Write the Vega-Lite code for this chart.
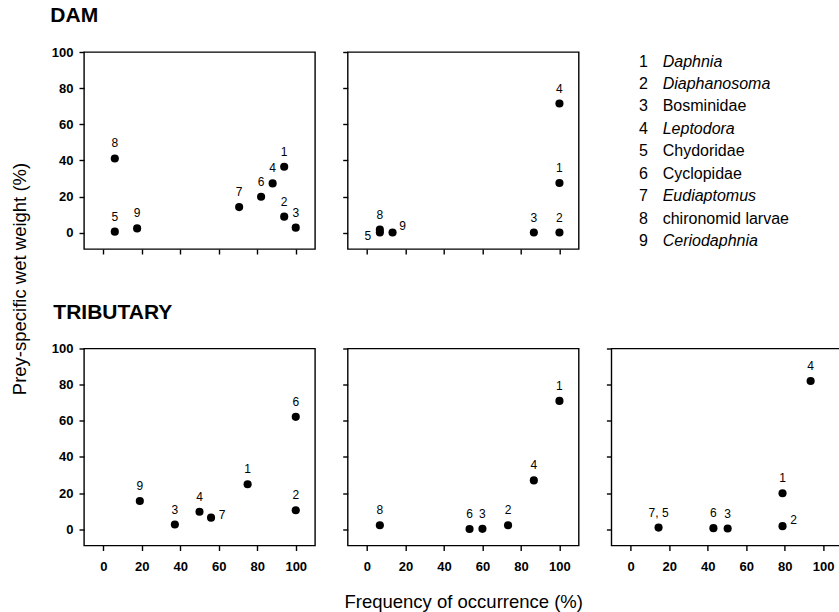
{
  "$schema": "https://vega.github.io/schema/vega-lite/v6.json",
  "padding": {"left": 11, "top": 4, "right": 0, "bottom": 0},
  "config": {
    "font": "Liberation Sans",
    "view": {"stroke": "#000", "strokeWidth": 1.4},
    "axis": {"grid": false, "domain": false, "tickColor": "#000", "tickSize": 5, "tickWidth": 1.4, "labelFontSize": 13, "labelFontWeight": "bold", "labelColor": "#000", "labelFlush": false, "titleColor": "#000"},
    "axisX": {"labelPadding": 10},
    "axisY": {"labelPadding": 6},
    "text": {"color": "#000"},
    "title": {"color": "#000"}
  },
  "datasets": {
    "prey": [
      {"site": "DAM", "fish": "perch", "label": "1", "freq": 94, "weight": 36.5},
      {"site": "DAM", "fish": "perch", "label": "2", "freq": 94, "weight": 8.9},
      {"site": "DAM", "fish": "perch", "label": "3", "freq": 100, "weight": 2.8},
      {"site": "DAM", "fish": "perch", "label": "4", "freq": 88, "weight": 27.3},
      {"site": "DAM", "fish": "perch", "label": "5", "freq": 6, "weight": 0.6},
      {"site": "DAM", "fish": "perch", "label": "6", "freq": 82, "weight": 19.9},
      {"site": "DAM", "fish": "perch", "label": "7", "freq": 70.6, "weight": 14.2},
      {"site": "DAM", "fish": "perch", "label": "8", "freq": 6, "weight": 41.1},
      {"site": "DAM", "fish": "perch", "label": "9", "freq": 17.6, "weight": 2.4},
      {"site": "DAM", "fish": "roach", "label": "1", "freq": 100, "weight": 27.5},
      {"site": "DAM", "fish": "roach", "label": "2", "freq": 100, "weight": 0.1},
      {"site": "DAM", "fish": "roach", "label": "3", "freq": 86.7, "weight": 0.1},
      {"site": "DAM", "fish": "roach", "label": "4", "freq": 100, "weight": 71.5},
      {"site": "DAM", "fish": "roach", "label": "5", "freq": 6.7, "weight": 0.1},
      {"site": "DAM", "fish": "roach", "label": "8", "freq": 6.7, "weight": 1.7},
      {"site": "DAM", "fish": "roach", "label": "9", "freq": 13.3, "weight": 0.1},
      {"site": "TRIBUTARY", "fish": "perch", "label": "9", "freq": 19, "weight": 15.6},
      {"site": "TRIBUTARY", "fish": "perch", "label": "3", "freq": 37.2, "weight": 2.6},
      {"site": "TRIBUTARY", "fish": "perch", "label": "4", "freq": 50, "weight": 9.7},
      {"site": "TRIBUTARY", "fish": "perch", "label": "7", "freq": 56, "weight": 6.4},
      {"site": "TRIBUTARY", "fish": "perch", "label": "1", "freq": 75, "weight": 24.9},
      {"site": "TRIBUTARY", "fish": "perch", "label": "6", "freq": 100, "weight": 62.2},
      {"site": "TRIBUTARY", "fish": "perch", "label": "2", "freq": 100, "weight": 10.5},
      {"site": "TRIBUTARY", "fish": "roach", "label": "8", "freq": 6.7, "weight": 2.2},
      {"site": "TRIBUTARY", "fish": "roach", "label": "6", "freq": 53.3, "weight": 0.1},
      {"site": "TRIBUTARY", "fish": "roach", "label": "3", "freq": 60, "weight": 0.2},
      {"site": "TRIBUTARY", "fish": "roach", "label": "2", "freq": 73.3, "weight": 2.2},
      {"site": "TRIBUTARY", "fish": "roach", "label": "4", "freq": 86.7, "weight": 27},
      {"site": "TRIBUTARY", "fish": "roach", "label": "1", "freq": 100, "weight": 71},
      {"site": "TRIBUTARY", "fish": "bream", "label": "7, 5", "freq": 14.5, "weight": 0.9},
      {"site": "TRIBUTARY", "fish": "bream", "label": "6", "freq": 43, "weight": 0.6},
      {"site": "TRIBUTARY", "fish": "bream", "label": "3", "freq": 50.4, "weight": 0.4},
      {"site": "TRIBUTARY", "fish": "bream", "label": "1", "freq": 78.9, "weight": 19.9},
      {"site": "TRIBUTARY", "fish": "bream", "label": "2", "freq": 78.9, "weight": 1.7},
      {"site": "TRIBUTARY", "fish": "bream", "label": "4", "freq": 93.5, "weight": 82}
    ],
    "taxa": [
      {"num": "1", "name": "Daphnia", "rank": "genus"},
      {"num": "2", "name": "Diaphanosoma", "rank": "genus"},
      {"num": "3", "name": "Bosminidae", "rank": "family"},
      {"num": "4", "name": "Leptodora", "rank": "genus"},
      {"num": "5", "name": "Chydoridae", "rank": "family"},
      {"num": "6", "name": "Cyclopidae", "rank": "family"},
      {"num": "7", "name": "Eudiaptomus", "rank": "genus"},
      {"num": "8", "name": "chironomid larvae", "rank": "other"},
      {"num": "9", "name": "Ceriodaphnia", "rank": "genus"}
    ]
  },
  "title": {"text": "Prey-specific wet weight (%)", "orient": "left", "anchor": "middle", "fontSize": 18.5, "fontWeight": "normal", "baseline": "alphabetic", "offset": 5, "dx": 29},
  "columns": 3,
  "spacing": {"row": 99.5, "column": 32.7},
  "bounds": "flush",
  "concat": [
    {
      "width": 231, "height": 197,
      "title": {"text": "DAM", "anchor": "start", "frame": "bounds", "fontSize": 21, "fontWeight": "bold", "baseline": "alphabetic", "offset": 3, "dx": -1},
      "data": {"name": "prey"},
      "transform": [{"filter": "datum.site == 'DAM' && datum.fish == 'perch'"}],
      "encoding": {
        "x": {"field": "freq", "type": "quantitative", "scale": {"domain": [-10, 110], "nice": false, "zero": false}, "axis": {"values": [0, 20, 40, 60, 80, 100], "labels": false, "title": null}},
        "y": {"field": "weight", "type": "quantitative", "scale": {"domain": [-9, 100], "nice": false, "zero": false}, "axis": {"values": [0, 20, 40, 60, 80, 100], "title": null}}
      },
      "layer": [
        {"mark": {"type": "circle", "size": 66, "color": "#000", "opacity": 1}},
        {"mark": {"type": "text", "dy": -15, "baseline": "middle", "fontSize": 12}, "encoding": {"text": {"field": "label"}}},
        {"data": {"values": [{"t": "perch (n = 20)"}]}, "mark": {"type": "text", "align": "left", "baseline": "top", "fontSize": 16}, "encoding": {"x": {"datum": -6.7}, "y": {"datum": 94.5}, "text": {"field": "t"}}}
      ]
    },
    {
      "width": 231, "height": 197,
      "data": {"name": "prey"},
      "transform": [{"filter": "datum.site == 'DAM' && datum.fish == 'roach'"}],
      "encoding": {
        "x": {"field": "freq", "type": "quantitative", "scale": {"domain": [-10, 110], "nice": false, "zero": false}, "axis": {"values": [0, 20, 40, 60, 80, 100], "labels": false, "title": null}},
        "y": {"field": "weight", "type": "quantitative", "scale": {"domain": [-9, 100], "nice": false, "zero": false}, "axis": {"values": [0, 20, 40, 60, 80, 100], "labels": false, "title": null}}
      },
      "layer": [
        {"mark": {"type": "circle", "size": 66, "color": "#000", "opacity": 1}},
        {"transform": [{"filter": "datum.label != '5' && datum.label != '9'"}], "mark": {"type": "text", "dy": -15, "baseline": "middle", "fontSize": 12}, "encoding": {"text": {"field": "label"}}},
        {"transform": [{"filter": "datum.label == '9'"}], "mark": {"type": "text", "dx": 10, "dy": -7, "baseline": "middle", "fontSize": 12}, "encoding": {"text": {"field": "label"}}},
        {"transform": [{"filter": "datum.label == '5'"}], "mark": {"type": "text", "dx": -12, "dy": 3, "baseline": "middle", "fontSize": 12}, "encoding": {"text": {"field": "label"}}},
        {"data": {"values": [{"t": "roach (n = 15)"}]}, "mark": {"type": "text", "align": "left", "baseline": "top", "fontSize": 16}, "encoding": {"x": {"datum": -6.5}, "y": {"datum": 94.5}, "text": {"field": "t"}}}
      ]
    },
    {
      "width": 231, "height": 197,
      "view": {"stroke": null},
      "data": {"name": "taxa"},
      "encoding": {
        "y": {"field": "num", "type": "ordinal", "scale": {"type": "point", "range": [9.5, 189.3], "padding": 0}, "axis": null}
      },
      "layer": [
        {"mark": {"type": "text", "align": "left", "baseline": "middle", "fontSize": 16}, "encoding": {"x": {"datum": 27.6, "scale": {"domain": [0, 231], "nice": false, "zero": false}, "axis": null}, "text": {"field": "num"}}},
        {"transform": [{"filter": "datum.rank == 'genus'"}], "mark": {"type": "text", "align": "left", "baseline": "middle", "fontSize": 16, "fontStyle": "italic"}, "encoding": {"x": {"datum": 51.3}, "text": {"field": "name"}}},
        {"transform": [{"filter": "datum.rank != 'genus'"}], "mark": {"type": "text", "align": "left", "baseline": "middle", "fontSize": 16}, "encoding": {"x": {"datum": 51.3}, "text": {"field": "name"}}}
      ]
    },
    {
      "width": 231, "height": 197,
      "title": {"text": "TRIBUTARY", "anchor": "start", "frame": "bounds", "fontSize": 21, "fontWeight": "bold", "baseline": "alphabetic", "offset": 3, "dx": 2},
      "data": {"name": "prey"},
      "transform": [{"filter": "datum.site == 'TRIBUTARY' && datum.fish == 'perch'"}],
      "encoding": {
        "x": {"field": "freq", "type": "quantitative", "scale": {"domain": [-10, 110], "nice": false, "zero": false}, "axis": {"values": [0, 20, 40, 60, 80, 100], "title": null}},
        "y": {"field": "weight", "type": "quantitative", "scale": {"domain": [-9, 100], "nice": false, "zero": false}, "axis": {"values": [0, 20, 40, 60, 80, 100], "title": null}}
      },
      "layer": [
        {"mark": {"type": "circle", "size": 66, "color": "#000", "opacity": 1}},
        {"transform": [{"filter": "datum.label != '7'"}], "mark": {"type": "text", "dy": -15, "baseline": "middle", "fontSize": 12}, "encoding": {"text": {"field": "label"}}},
        {"transform": [{"filter": "datum.label == '7'"}], "mark": {"type": "text", "dx": 11, "dy": -3, "baseline": "middle", "fontSize": 12}, "encoding": {"text": {"field": "label"}}},
        {"data": {"values": [{"t": "perch (n = 20)"}]}, "mark": {"type": "text", "align": "left", "baseline": "top", "fontSize": 16}, "encoding": {"x": {"datum": -6.7}, "y": {"datum": 94.5}, "text": {"field": "t"}}}
      ]
    },
    {
      "width": 231, "height": 197,
      "data": {"name": "prey"},
      "transform": [{"filter": "datum.site == 'TRIBUTARY' && datum.fish == 'roach'"}],
      "encoding": {
        "x": {"field": "freq", "type": "quantitative", "scale": {"domain": [-10, 110], "nice": false, "zero": false}, "axis": {"values": [0, 20, 40, 60, 80, 100], "title": "Frequency of occurrence (%)", "titleFontSize": 18.5, "titleFontWeight": "normal", "titlePadding": 19}},
        "y": {"field": "weight", "type": "quantitative", "scale": {"domain": [-9, 100], "nice": false, "zero": false}, "axis": {"values": [0, 20, 40, 60, 80, 100], "labels": false, "title": null}}
      },
      "layer": [
        {"mark": {"type": "circle", "size": 66, "color": "#000", "opacity": 1}},
        {"mark": {"type": "text", "dy": -15, "baseline": "middle", "fontSize": 12}, "encoding": {"text": {"field": "label"}}},
        {"data": {"values": [{"t": "roach (n = 15)"}]}, "mark": {"type": "text", "align": "left", "baseline": "top", "fontSize": 16}, "encoding": {"x": {"datum": -6.5}, "y": {"datum": 94.5}, "text": {"field": "t"}}}
      ]
    },
    {
      "width": 231, "height": 197,
      "data": {"name": "prey"},
      "transform": [{"filter": "datum.site == 'TRIBUTARY' && datum.fish == 'bream'"}],
      "encoding": {
        "x": {"field": "freq", "type": "quantitative", "scale": {"domain": [-10, 110], "nice": false, "zero": false}, "axis": {"values": [0, 20, 40, 60, 80, 100], "title": null}},
        "y": {"field": "weight", "type": "quantitative", "scale": {"domain": [-9, 100], "nice": false, "zero": false}, "axis": {"values": [0, 20, 40, 60, 80, 100], "labels": false, "title": null}}
      },
      "layer": [
        {"mark": {"type": "circle", "size": 66, "color": "#000", "opacity": 1}},
        {"transform": [{"filter": "datum.label != '2'"}], "mark": {"type": "text", "dy": -15, "baseline": "middle", "fontSize": 12}, "encoding": {"text": {"field": "label"}}},
        {"transform": [{"filter": "datum.label == '2'"}], "mark": {"type": "text", "dx": 11, "dy": -6, "baseline": "middle", "fontSize": 12}, "encoding": {"text": {"field": "label"}}},
        {"data": {"values": [{"t": "bream (n = 15)"}]}, "mark": {"type": "text", "align": "left", "baseline": "top", "fontSize": 16}, "encoding": {"x": {"datum": -4.6}, "y": {"datum": 94.5}, "text": {"field": "t"}}}
      ]
    }
  ]
}
